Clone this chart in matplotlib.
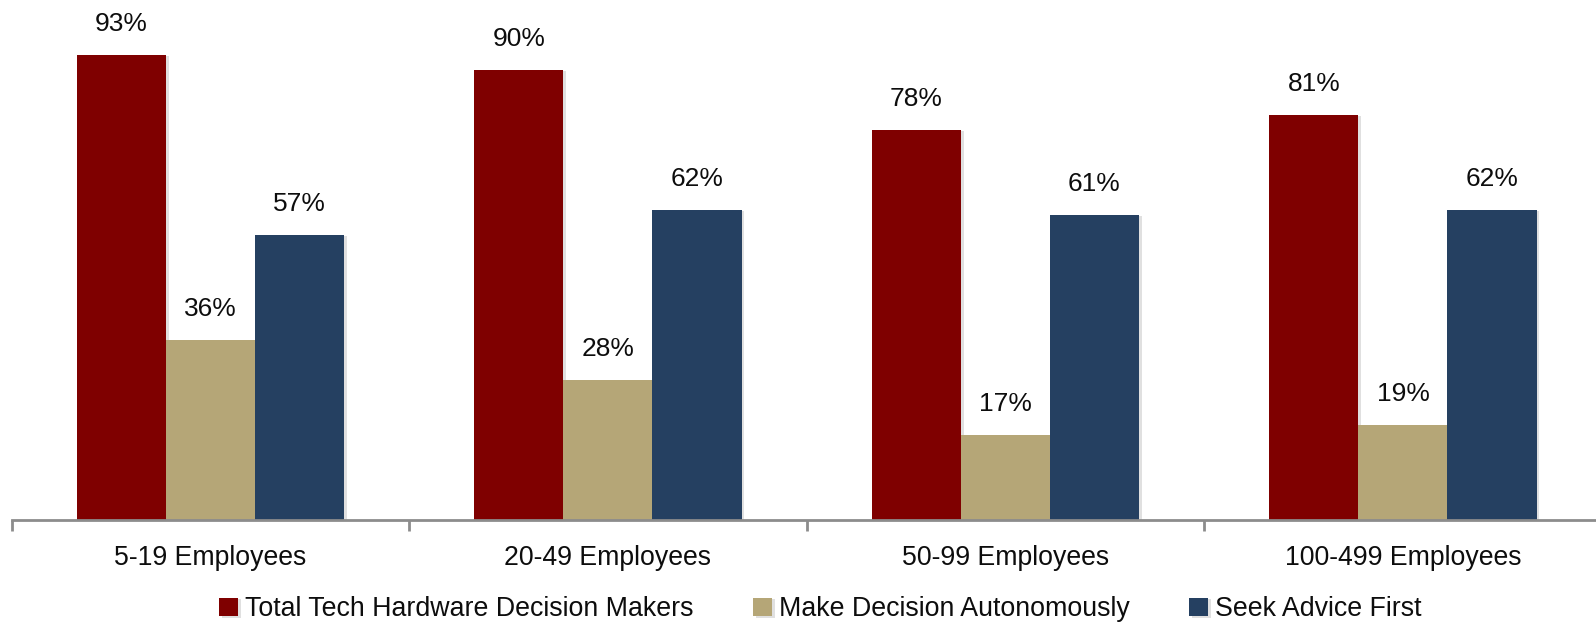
import numpy as np
import matplotlib.pyplot as plt
import matplotlib.patheffects as pe

plt.rcParams['font.family'] = ['Liberation Sans', 'DejaVu Sans']

# Survey results by company size
groups = ['5-19 Employees', '20-49 Employees', '50-99 Employees', '100-499 Employees']
series = ['Total Tech Hardware Decision Makers', 'Make Decision Autonomously', 'Seek Advice First']
total_dm = [93, 90, 78, 81]
autonomous = [36, 28, 17, 19]
seek_advice = [57, 62, 61, 62]
colors = ['#7F0000', '#B5A677', '#254061']

fig = plt.figure(figsize=(15.96, 6.24), dpi=100)
ax = fig.add_axes([11.7 / 1596, 104 / 624, 1590 / 1596, 500 / 624])

x = np.arange(len(groups))
w = 0.224
shadow = [pe.SimplePatchShadow(offset=(2, -1), shadow_rgbFace='#000000', alpha=0.12), pe.Normal()]
for k, (vals, name, c) in enumerate(zip([total_dm, autonomous, seek_advice], series, colors)):
    bars = ax.bar(x + (k - 1) * w, vals, width=w, color=c, label=name, zorder=2)
    for b in bars:
        b.set_path_effects(shadow)
    for xi, v in zip(x + (k - 1) * w, vals):
        ax.annotate(f'{v}%', (xi, v), xytext=(0, 22), textcoords='offset points',
                    ha='center', va='center', fontsize=19, color='#0d0d0d')

ax.set_xlim(-0.5, len(groups) - 0.5)
ax.set_ylim(0, 100)

# group boundaries get the tick marks, group centres get the labels
ax.set_xticks(np.arange(len(groups) + 1) - 0.5)
ax.set_xticklabels([])
ax.set_xticks(x, minor=True)
ax.set_xticklabels(groups, minor=True, fontsize=19.2, color='#0d0d0d')
ax.tick_params(axis='x', which='major', length=8, width=2, color='#8C8C8C', direction='out')
ax.tick_params(axis='x', which='minor', length=0, pad=18)

for s in ['top', 'right', 'left']:
    ax.spines[s].set_visible(False)
ax.spines['bottom'].set_color('#8C8C8C')
ax.spines['bottom'].set_linewidth(2)
ax.set_yticks([])

handles, labels = ax.get_legend_handles_labels()
fig.legend(handles, labels, loc='lower center', bbox_to_anchor=(0.514, -0.036), ncol=3,
           frameon=False, fontsize=19.3, handlelength=0.7, handleheight=0.7,
           handletextpad=0.25, columnspacing=2.23, labelcolor='#0d0d0d')

fig.savefig('out.png', dpi=100)
